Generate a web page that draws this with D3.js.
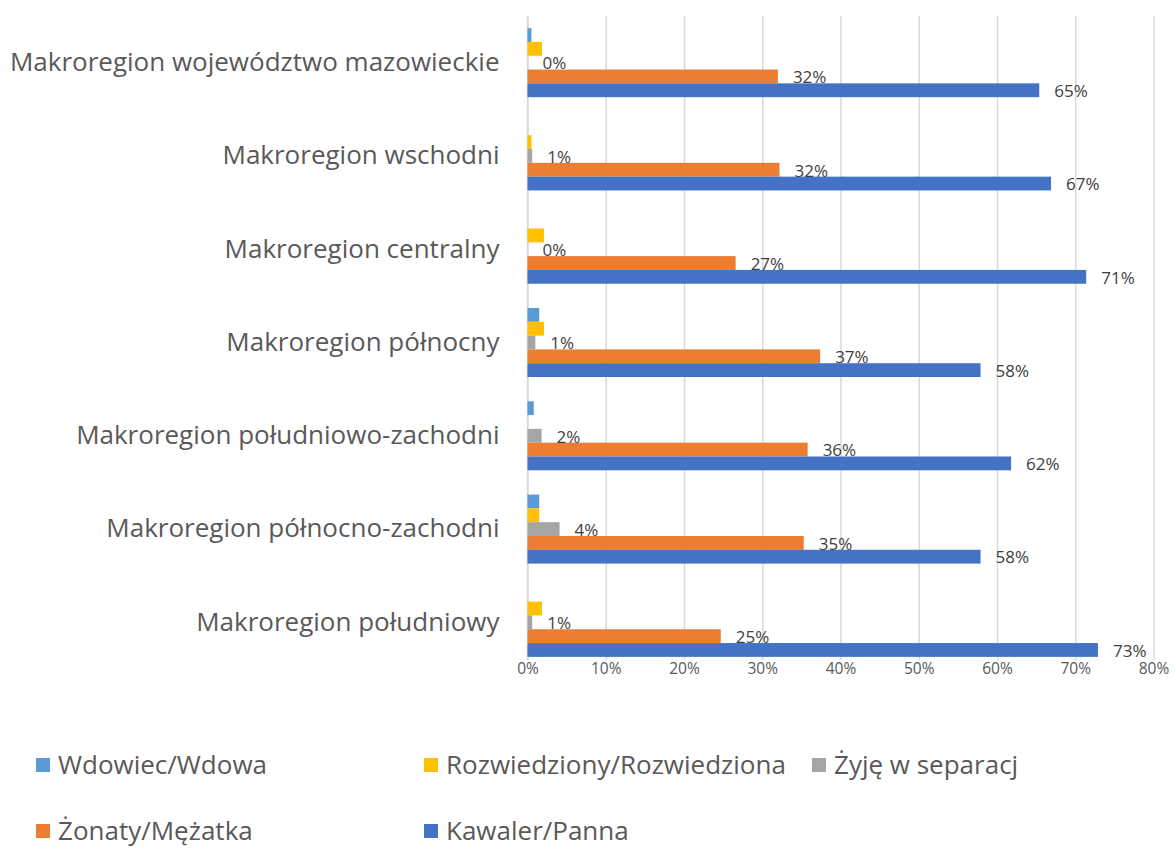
<!DOCTYPE html>
<html>
<head>
<meta charset="utf-8">
<script src="https://cdn.jsdelivr.net/npm/d3@7"></script>
<style>
  html, body { margin: 0; padding: 0; background: #ffffff; }
  svg { display: block; font-family: "Open Sans", "DejaVu Sans", sans-serif; }
</style>
</head>
<body>
<svg id="chart" width="1176" height="850"></svg>
<script>
// Regions, top to bottom
const categories = [
  "Makroregion województwo mazowieckie",
  "Makroregion wschodni",
  "Makroregion centralny",
  "Makroregion północny",
  "Makroregion południowo-zachodni",
  "Makroregion północno-zachodni",
  "Makroregion południowy"
];

// Share of respondents (%) per marital status
const wdowiec      = [0.5, 0.0, 0.0, 1.5, 0.8, 1.5, 0.0];
const rozwiedziony = [1.85, 0.5, 2.1, 2.1, 0.0, 1.5, 1.85];
const separacja    = [0.0, 0.6, 0.0, 1.0, 1.8, 4.1, 0.6];
const zonaty       = [32.0, 32.2, 26.6, 37.4, 35.8, 35.3, 24.7];
const kawaler      = [65.4, 66.9, 71.4, 57.9, 61.8, 57.9, 72.9];

const seriesNames = [
  "Wdowiec/Wdowa",
  "Rozwiedziony/Rozwiedziona",
  "Żyję w separacj",
  "Żonaty/Mężatka",
  "Kawaler/Panna"
];
const seriesColors = ["#5B9BD5", "#FFC000", "#A5A5A5", "#ED7D31", "#4472C4"];
const seriesValues = [wdowiec, rozwiedziony, separacja, zonaty, kawaler];
const labelledSeries = [false, false, true, true, true];

const xTicks = [0, 10, 20, 30, 40, 50, 60, 70, 80];

const series = seriesNames.map((name, i) => ({
  name, color: seriesColors[i], values: seriesValues[i], labelled: labelledSeries[i]
}));

const svg = d3.select("#chart");
const plot = { left: 527.5, right: 1153.5, top: 16, bottom: 669, gridBottom: 660 };

const x = d3.scaleLinear().domain([0, 80]).range([plot.left, plot.right]);
const y = d3.scaleBand().domain(categories).range([plot.top, plot.bottom])
  .paddingInner(0.26).paddingOuter(0.13);
const ySub = d3.scaleBand().domain(seriesNames).range([0, y.bandwidth()]);

// vertical gridlines
const grid = svg.append("g")
  .attr("transform", `translate(0,${plot.gridBottom})`)
  .call(d3.axisBottom(x).tickValues(xTicks).tickSize(-(plot.gridBottom - plot.top)).tickFormat(""));
grid.select(".domain").remove();
grid.selectAll("line").attr("stroke", "#D9D9D9").attr("stroke-width", 1.5);

// tick labels
const xAxis = svg.append("g")
  .attr("transform", `translate(0,${plot.gridBottom})`)
  .call(d3.axisBottom(x).tickValues(xTicks).tickSize(0).tickPadding(3).tickFormat(d => d + "%"));
xAxis.select(".domain").remove();
xAxis.selectAll("text")
  .attr("fill", "#595959")
  .style("font-size", "15.5px")
  .style("font-family", "\"Open Sans\", sans-serif");

// category axis line
svg.append("line")
  .attr("x1", x(0)).attr("x2", x(0))
  .attr("y1", plot.top).attr("y2", plot.gridBottom)
  .attr("stroke", "#D9D9D9").attr("stroke-width", 1.5);

// category labels
const yAxis = svg.append("g")
  .attr("transform", `translate(${plot.left},0)`)
  .call(d3.axisLeft(y).tickSize(0).tickPadding(28));
yAxis.select(".domain").remove();
yAxis.selectAll("text")
  .attr("fill", "#595959")
  .style("font-size", "26px")
  .style("font-family", "\"Open Sans\", sans-serif");

// bars
const groups = svg.append("g").selectAll("g")
  .data(categories)
  .join("g")
  .attr("transform", d => `translate(0,${y(d)})`);

groups.selectAll("rect")
  .data((d, ci) => series.map(s => ({ s, v: s.values[ci] })))
  .join("rect")
  .attr("x", x(0))
  .attr("y", d => ySub(d.s.name))
  .attr("width", d => x(d.v) - x(0))
  .attr("height", ySub.bandwidth())
  .attr("fill", d => d.s.color);

// value labels
groups.selectAll("text.val")
  .data((d, ci) => series.filter(s => s.labelled).map(s => ({ s, v: s.values[ci] })))
  .join("text")
  .attr("class", "val")
  .attr("x", d => x(d.v) + 15)
  .attr("y", d => ySub(d.s.name) + ySub.bandwidth() / 2)
  .attr("dy", "0.4em")
  .attr("fill", "#404040")
  .style("font-size", "17px")
  .text(d => Math.round(d.v) + "%");

// legend
const legendPos = [[36, 765], [424, 765], [812, 765], [36, 831], [424, 831]];
const legend = svg.append("g").selectAll("g")
  .data(series)
  .join("g")
  .attr("transform", (d, i) => `translate(${legendPos[i][0]},${legendPos[i][1]})`);
legend.append("rect")
  .attr("x", 0).attr("y", -7).attr("width", 14).attr("height", 14)
  .attr("fill", d => d.color);
legend.append("text")
  .attr("x", 22).attr("y", 0).attr("dy", "0.35em")
  .attr("fill", "#595959")
  .style("font-size", "26px")
  .text(d => d.name);
</script>
</body>
</html>
